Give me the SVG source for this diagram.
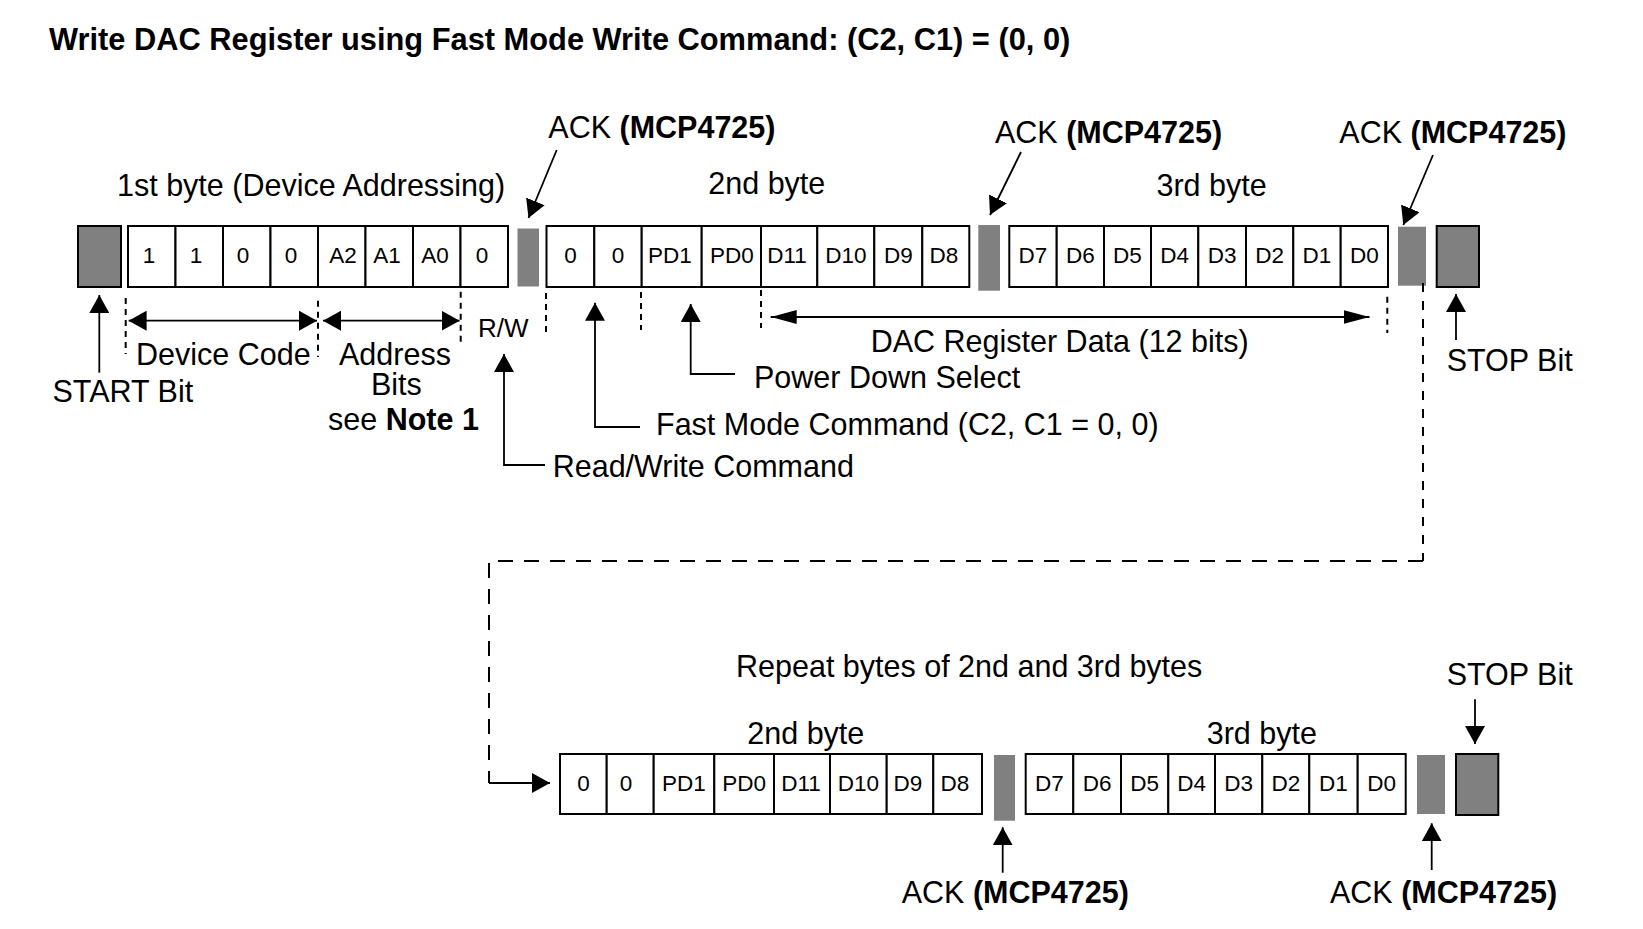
<svg xmlns="http://www.w3.org/2000/svg" width="1643" height="929" viewBox="0 0 1643 929">
<style>
text{font-family:"Liberation Sans",Arial,sans-serif;fill:#000}
.lbl{font-size:30.5px}
.ttl{font-size:30.8px;font-weight:bold}
.b{font-weight:bold}
.ct{font-size:22.5px;text-anchor:middle}
.cell{fill:#fff;stroke:#000;stroke-width:2}
.bit{fill:#808080;stroke:#000;stroke-width:2}
.ack{fill:#808080;stroke:none}
.ln{fill:none;stroke:#000;stroke-width:1.8}
.dot{fill:none;stroke:#000;stroke-width:2;stroke-dasharray:6 5}
.dash{fill:none;stroke:#000;stroke-width:2;stroke-dasharray:15 11}
.dashv{fill:none;stroke:#000;stroke-width:2;stroke-dasharray:9 9}
</style>
<defs>
<marker id="ah" viewBox="0 0 18 20" refX="18" refY="10" markerWidth="18" markerHeight="20" markerUnits="userSpaceOnUse" orient="auto-start-reverse"><path d="M0,0 L18,10 L0,20 z" fill="#000"/></marker>
<marker id="al" viewBox="0 0 26 14" refX="26" refY="7" markerWidth="26" markerHeight="14" markerUnits="userSpaceOnUse" orient="auto-start-reverse"><path d="M0,0 L26,7 L0,14 z" fill="#000"/></marker>
</defs>
<rect width="1643" height="929" fill="#fff"/>
<g id="title"><text class="ttl" x="49" y="50">Write DAC Register using Fast Mode Write Command: (C2, C1) = (0, 0)</text></g>

<g id="start-bit"><rect class="bit" x="78" y="226" width="43" height="61"/></g>
<g id="byte1">
<rect class="cell" x="128" y="226" width="47.5" height="61"/><rect class="cell" x="175.5" y="226" width="47.5" height="61"/><rect class="cell" x="223" y="226" width="47.5" height="61"/><rect class="cell" x="270.5" y="226" width="47.5" height="61"/><rect class="cell" x="318" y="226" width="47.5" height="61"/><rect class="cell" x="365.5" y="226" width="47.5" height="61"/><rect class="cell" x="413" y="226" width="47.5" height="61"/><rect class="cell" x="460.5" y="226" width="47.5" height="61"/>
<text class="ct" x="149" y="263">1</text><text class="ct" x="196" y="263">1</text><text class="ct" x="243" y="263">0</text><text class="ct" x="291" y="263">0</text><text class="ct" x="343" y="263">A2</text><text class="ct" x="387" y="263">A1</text><text class="ct" x="435" y="263">A0</text><text class="ct" x="482" y="263">0</text>
</g>
<g id="ack1"><rect class="ack" x="517.5" y="228.5" width="21.5" height="58"/></g>
<g id="byte2">
<rect class="cell" x="546.5" y="226" width="47.8" height="61"/><rect class="cell" x="594.3" y="226" width="47.4" height="61"/><rect class="cell" x="641.7" y="226" width="60" height="61"/><rect class="cell" x="701.7" y="226" width="59.3" height="61"/><rect class="cell" x="761" y="226" width="56.3" height="61"/><rect class="cell" x="817.3" y="226" width="57" height="61"/><rect class="cell" x="874.3" y="226" width="48" height="61"/><rect class="cell" x="922.3" y="226" width="47" height="61"/>
<text class="ct" x="570.4" y="263">0</text><text class="ct" x="618" y="263">0</text><text class="ct" x="670" y="263">PD1</text><text class="ct" x="732" y="263">PD0</text><text class="ct" x="787" y="263">D11</text><text class="ct" x="845.8" y="263">D10</text><text class="ct" x="898.3" y="263">D9</text><text class="ct" x="944" y="263">D8</text>
</g>
<g id="ack2"><rect class="ack" x="978.3" y="225" width="21.7" height="65.7"/></g>
<g id="byte3">
<rect class="cell" x="1009.3" y="226" width="47.4" height="61"/><rect class="cell" x="1056.7" y="226" width="47.3" height="61"/><rect class="cell" x="1104" y="226" width="47" height="61"/><rect class="cell" x="1151" y="226" width="47.3" height="61"/><rect class="cell" x="1198.3" y="226" width="47.7" height="61"/><rect class="cell" x="1246" y="226" width="47.3" height="61"/><rect class="cell" x="1293.3" y="226" width="47.4" height="61"/><rect class="cell" x="1340.7" y="226" width="47.3" height="61"/>
<text class="ct" x="1033" y="263">D7</text><text class="ct" x="1080.4" y="263">D6</text><text class="ct" x="1127.5" y="263">D5</text><text class="ct" x="1174.7" y="263">D4</text><text class="ct" x="1222.2" y="263">D3</text><text class="ct" x="1269.7" y="263">D2</text><text class="ct" x="1317" y="263">D1</text><text class="ct" x="1364.4" y="263">D0</text>
</g>
<g id="ack3"><rect class="ack" x="1398" y="226.7" width="28" height="59"/></g>
<g id="stop-bit"><rect class="bit" x="1436.7" y="226" width="42.3" height="61"/></g>

<g id="row2-byte2">
<rect class="cell" x="560" y="754" width="46.7" height="60"/><rect class="cell" x="606.7" y="754" width="47" height="60"/><rect class="cell" x="653.7" y="754" width="60.6" height="60"/><rect class="cell" x="714.3" y="754" width="59.7" height="60"/><rect class="cell" x="774" y="754" width="56" height="60"/><rect class="cell" x="830" y="754" width="56.7" height="60"/><rect class="cell" x="886.7" y="754" width="46.6" height="60"/><rect class="cell" x="933.3" y="754" width="48.7" height="60"/>
<text class="ct" x="583.4" y="791">0</text><text class="ct" x="626" y="791">0</text><text class="ct" x="684" y="791">PD1</text><text class="ct" x="744.2" y="791">PD0</text><text class="ct" x="801" y="791">D11</text><text class="ct" x="858.4" y="791">D10</text><text class="ct" x="908" y="791">D9</text><text class="ct" x="955" y="791">D8</text>
</g>
<g id="row2-ack2"><rect class="ack" x="994" y="755" width="21" height="65.7"/></g>
<g id="row2-byte3">
<rect class="cell" x="1025.7" y="754" width="47.6" height="60"/><rect class="cell" x="1073.3" y="754" width="47.7" height="60"/><rect class="cell" x="1121" y="754" width="47.3" height="60"/><rect class="cell" x="1168.3" y="754" width="46.7" height="60"/><rect class="cell" x="1215" y="754" width="47.3" height="60"/><rect class="cell" x="1262.3" y="754" width="47" height="60"/><rect class="cell" x="1309.3" y="754" width="48.4" height="60"/><rect class="cell" x="1357.7" y="754" width="48" height="60"/>
<text class="ct" x="1049.5" y="791">D7</text><text class="ct" x="1097.2" y="791">D6</text><text class="ct" x="1144.7" y="791">D5</text><text class="ct" x="1191.7" y="791">D4</text><text class="ct" x="1238.7" y="791">D3</text><text class="ct" x="1285.8" y="791">D2</text><text class="ct" x="1333.5" y="791">D1</text><text class="ct" x="1381.7" y="791">D0</text>
</g>
<g id="row2-ack3"><rect class="ack" x="1417" y="755" width="28" height="59"/></g>
<g id="row2-stop-bit"><rect class="bit" x="1456" y="754" width="42.3" height="61"/></g>

<g id="labels">
<text class="lbl" x="117" y="196">1st byte (Device Addressing)</text>
<text class="lbl" x="548.3" y="138">ACK <tspan class="b">(MCP4725)</tspan></text>
<text class="lbl" x="708.3" y="194">2nd byte</text>
<text class="lbl" x="995" y="142.7">ACK <tspan class="b">(MCP4725)</tspan></text>
<text class="lbl" x="1156.5" y="196">3rd byte</text>
<text class="lbl" x="1339.3" y="142.7">ACK <tspan class="b">(MCP4725)</tspan></text>
<text class="lbl" x="52.5" y="401.7">START Bit</text>
<text class="lbl" x="136" y="364.5">Device Code</text>
<text class="lbl" x="339" y="364.5">Address</text>
<text class="lbl" x="371" y="395">Bits</text>
<text class="lbl" x="328" y="430">see <tspan class="b">Note 1</tspan></text>
<text style="font-size:26px" x="478" y="337">R/W</text>
<text class="lbl" x="552.7" y="477">Read/Write Command</text>
<text class="lbl" x="656" y="435">Fast Mode Command (C2, C1 = 0, 0)</text>
<text class="lbl" x="754" y="388">Power Down Select</text>
<text class="lbl" x="870.7" y="351.7">DAC Register Data (12 bits)</text>
<text class="lbl" x="1446.7" y="370.7">STOP Bit</text>
<text class="lbl" x="736" y="677.3">Repeat bytes of 2nd and 3rd bytes</text>
<text class="lbl" x="747.3" y="744">2nd byte</text>
<text class="lbl" x="1206.7" y="744">3rd byte</text>
<text class="lbl" x="1446.7" y="685">STOP Bit</text>
<text class="lbl" x="901.7" y="903.3">ACK <tspan class="b">(MCP4725)</tspan></text>
<text class="lbl" x="1330" y="903.3">ACK <tspan class="b">(MCP4725)</tspan></text>
</g>

<g id="connectors">
<path class="ln" d="M556.7,150 L528.5,218" marker-end="url(#ah)"/>
<path class="ln" d="M1021,152 L990,215" marker-end="url(#ah)"/>
<path class="ln" d="M1433,155 L1403.3,225" marker-end="url(#ah)"/>
<path class="ln" d="M99.3,372.7 L99.3,295" marker-end="url(#ah)"/>
<path class="ln" d="M128.6,320.7 L317,320.7" marker-start="url(#ah)" marker-end="url(#ah)"/>
<path class="ln" d="M323,320.7 L459.6,320.7" marker-start="url(#ah)" marker-end="url(#ah)"/>
<path class="ln" d="M545,465 L504,465 L504,354" marker-end="url(#ah)"/>
<path class="ln" d="M640,427 L595,427 L595,302.7" marker-end="url(#ah)"/>
<path class="ln" d="M735,374 L690.7,374 L690.7,304" marker-end="url(#ah)"/>
<path class="ln" d="M770.7,317 L1369.5,317" marker-start="url(#al)" marker-end="url(#al)"/>
<path class="ln" d="M1456,340 L1456,294" marker-end="url(#ah)"/>
<path class="dot" d="M125.7,298 V354 M318,300.7 V357 M460.7,291.7 V345 M546,293 V332 M641,292 V330 M761,290 V328 M1387.3,296.7 V333"/>
<path class="dashv" d="M1423,283 V561"/>
<path class="dash" d="M1423,561 H489 V783"/>
<path class="ln" d="M489,783 L550,783" marker-end="url(#ah)"/>
<path class="ln" d="M1475,699.3 L1475,744" marker-end="url(#ah)"/>
<path class="ln" d="M1002.7,872.7 L1002.7,827.3" marker-end="url(#ah)"/>
<path class="ln" d="M1431.7,870 L1431.7,823.3" marker-end="url(#ah)"/>
</g>
</svg>
